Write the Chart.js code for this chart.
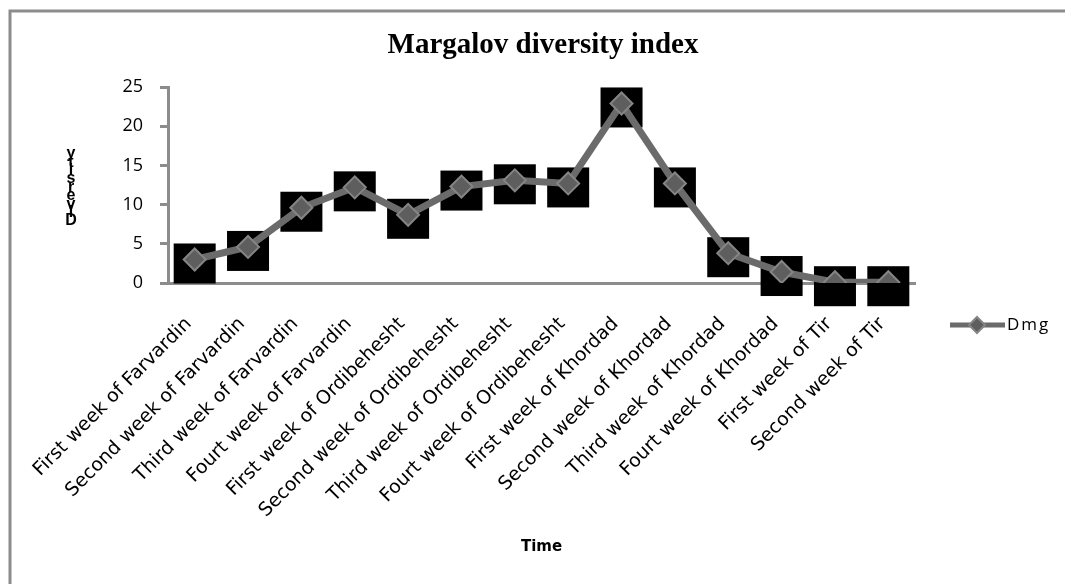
<!DOCTYPE html>
<html lang="en">
<head>
    <meta charset="UTF-8">
    <title>Margalov diversity index</title>
    <style>
        body { margin: 0; background: #ffffff; }
        #chart-container { position: relative; width: 1065px; height: 584px; }
    </style>
</head>
<body>
    <div id="chart-container">
        <canvas id="dmgChart"></canvas>
    </div>

    <script src="https://cdn.jsdelivr.net/npm/chart.js"></script>
    <script>
        // Chart data
        const categories = [
            'First week of Farvardin', 'Second week of Farvardin', 'Third week of Farvardin', 'Fourt week of Farvardin',
            'First week of Ordibehesht', 'Second week of Ordibehesht', 'Third week of Ordibehesht', 'Fourt week of Ordibehesht',
            'First week of Khordad', 'Second week of Khordad', 'Third week of Khordad', 'Fourt week of Khordad',
            'First week of Tir', 'Second week of Tir'
        ];
        const dmgValues = [3.0, 4.6, 9.6, 12.2, 8.7, 12.3, 13.1, 12.7, 22.9, 12.7, 3.8, 1.4, 0.1, 0.1];
        const yTickValues = [0, 5, 10, 15, 20, 25];
        const seriesName = 'Dmg';
        const yAxisTitle = 'Diversity';
        const xAxisTitle = 'Time';
        const chartTitle = 'Margalov diversity index';

        const axisGray = '#8c8c8c';
        const lineGray = '#6b6b6b';

        // Outer frame (left and top edges are visible in the reference)
        const framePlugin = {
            id: 'frame',
            beforeDraw(chart) {
                const ctx = chart.ctx;
                ctx.save();
                ctx.strokeStyle = axisGray;
                ctx.lineWidth = 3;
                ctx.beginPath();
                ctx.moveTo(10, chart.height + 5);
                ctx.lineTo(10, 11);
                ctx.lineTo(chart.width + 5, 11);
                ctx.stroke();
                ctx.restore();
            }
        };

        // Chart title, centred a bit right of the page middle like the reference
        const titlePlugin = {
            id: 'topTitle',
            afterDraw(chart) {
                const ctx = chart.ctx;
                ctx.save();
                ctx.font = 'bold 29px "Liberation Serif"';
                ctx.fillStyle = '#000000';
                ctx.textAlign = 'center';
                ctx.textBaseline = 'middle';
                ctx.fillText(chartTitle, 543, 46);
                ctx.restore();
            }
        };

        // Black squares behind every marker
        const markerBoxPlugin = {
            id: 'markerBoxes',
            beforeDatasetsDraw(chart) {
                const ctx = chart.ctx;
                const meta = chart.getDatasetMeta(0);
                ctx.save();
                ctx.fillStyle = '#000000';
                meta.data.forEach(pt => {
                    ctx.fillRect(pt.x - 21, pt.y - 16, 42, 40);
                });
                ctx.restore();
            }
        };

        // Stacked letters of the y axis title
        const yTitlePlugin = {
            id: 'yTitle',
            afterDraw(chart) {
                const ctx = chart.ctx;
                ctx.save();
                ctx.font = 'bold 16px "Liberation Sans"';
                ctx.fillStyle = '#000000';
                ctx.textAlign = 'center';
                ctx.textBaseline = 'bottom';
                const letters = yAxisTitle.split('');
                letters.forEach((ch, i) => {
                    ctx.fillText(ch, 71, 229 - i * 8.4);
                });
                ctx.restore();
            }
        };

        // Legend: line with diamond marker and series name
        const legendPlugin = {
            id: 'lineLegend',
            afterDraw(chart) {
                const ctx = chart.ctx;
                const y = 325;
                ctx.save();
                ctx.strokeStyle = lineGray;
                ctx.lineWidth = 5;
                ctx.beginPath();
                ctx.moveTo(950, y);
                ctx.lineTo(1005, y);
                ctx.stroke();
                ctx.fillStyle = '#5e5e5e';
                ctx.strokeStyle = '#858585';
                ctx.lineWidth = 2;
                ctx.beginPath();
                ctx.moveTo(977, y - 8);
                ctx.lineTo(985, y);
                ctx.lineTo(977, y + 8);
                ctx.lineTo(969, y);
                ctx.closePath();
                ctx.fill();
                ctx.stroke();
                ctx.fillStyle = '#000000';
                ctx.font = '17px "Open Sans"';
                ctx.letterSpacing = '2px';
                ctx.textBaseline = 'middle';
                ctx.fillText(seriesName, 1007, y);
                ctx.restore();
            }
        };

        const ctx = document.getElementById('dmgChart').getContext('2d');
        const dmgChart = new Chart(ctx, {
            type: 'line',
            data: {
                labels: categories,
                datasets: [{
                    label: seriesName,
                    data: dmgValues,
                    borderColor: lineGray,
                    borderWidth: 7,
                    tension: 0,
                    pointStyle: 'rectRot',
                    pointRadius: 11,
                    pointBackgroundColor: '#5e5e5e',
                    pointBorderColor: '#858585',
                    pointBorderWidth: 2
                }]
            },
            options: {
                responsive: true,
                maintainAspectRatio: false,
                animation: false,
                layout: {
                    autoPadding: false,
                    padding: { left: 0, right: 150, top: 87, bottom: 0 }
                },
                plugins: {
                    legend: { display: false },
                    tooltip: { enabled: false },
                    title: { display: false }
                },
                scales: {
                    x: {
                        offset: true,
                        afterFit: scale => { scale.height = 301; },
                        grid: { display: false },
                        border: { display: true, color: axisGray, width: 3 },
                        ticks: {
                            autoSkip: false,
                            maxRotation: 45,
                            minRotation: 45,
                            padding: 22,
                            labelOffset: -6,
                            color: '#000000',
                            font: { family: '"DejaVu Sans"', size: 19 }
                        },
                        title: {
                            display: true,
                            text: xAxisTitle,
                            color: '#000000',
                            font: { family: '"DejaVu Sans"', size: 15, weight: 'bold', lineHeight: 1.2 },
                            padding: { top: 4, bottom: 28 }
                        }
                    },
                    y: {
                        min: 0,
                        max: 25,
                        afterFit: scale => { scale.width = 168; },
                        afterBuildTicks: scale => {
                            scale.ticks = yTickValues.map(v => ({ value: v }));
                        },
                        grid: {
                            drawOnChartArea: false,
                            drawTicks: true,
                            tickLength: 8,
                            color: axisGray,
                            lineWidth: 3
                        },
                        border: { display: true, color: axisGray, width: 3 },
                        ticks: {
                            padding: 17,
                            color: '#000000',
                            font: { family: '"Open Sans"', size: 18 }
                        }
                    }
                }
            },
            plugins: [framePlugin, titlePlugin, markerBoxPlugin, yTitlePlugin, legendPlugin]
        });
    </script>
</body>
</html>
